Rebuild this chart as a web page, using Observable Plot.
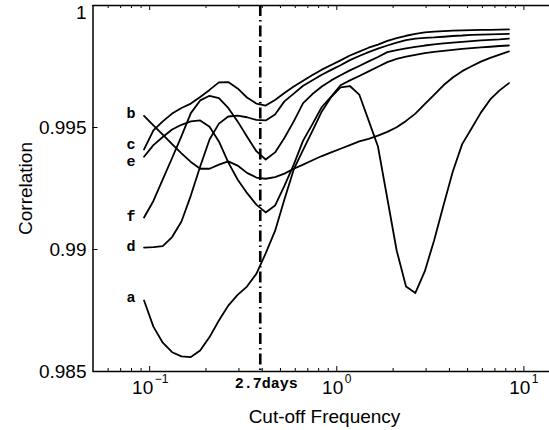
<!DOCTYPE html>
<html><head><meta charset="utf-8">
<script src="https://cdn.jsdelivr.net/npm/d3@7"></script>
<script src="https://cdn.jsdelivr.net/npm/@observablehq/plot@0.6"></script>
<style>body{margin:0;background:#fff;overflow:hidden}</style>
</head><body><div id="chart"></div>
<script>
// ---- data ----
const freq = [0.09333,0.10471,0.11749,0.13183,0.14791,0.16596,0.18621,0.20893,0.23442,0.26303,
  0.29512,0.33113,0.37154,0.41687,0.46774,0.52481,0.58884,0.66069,0.74131,0.83176,
  0.93325,1.0471,1.1749,1.3183,1.4791,1.6596,1.8621,2.0893,2.3442,2.6303,
  2.9512,3.3113,3.7154,4.1687,4.6774,5.2481,5.8884,6.6069,7.4131,8.3176];
const corrA = [0.98791,0.98684,0.98618,0.98579,0.98562,0.98559,0.98586,0.98641,0.98709,0.98770,
  0.98814,0.98848,0.98900,0.98984,0.99076,0.99205,0.99328,0.99408,0.99486,0.99566,
  0.99625,0.99664,0.99670,0.99635,0.99529,0.99422,0.99209,0.98996,0.98848,0.98822,
  0.98910,0.99037,0.99180,0.99320,0.99432,0.99496,0.99561,0.99615,0.99652,0.99682];
const corrB = [0.99548,0.99509,0.99471,0.99432,0.99394,0.99359,0.99331,0.99331,0.99348,0.99361,
  0.99344,0.99314,0.99295,0.99290,0.99297,0.99311,0.99331,0.99348,0.99366,0.99383,
  0.99398,0.99413,0.99428,0.99443,0.99453,0.99467,0.99482,0.99501,0.99527,0.99557,
  0.99596,0.99634,0.99673,0.99705,0.99731,0.99751,0.99770,0.99785,0.99799,0.99812];
const corrC = [0.99410,0.99488,0.99525,0.99557,0.99580,0.99598,0.99625,0.99654,0.99685,0.99686,
  0.99660,0.99623,0.99598,0.99590,0.99613,0.99641,0.99668,0.99692,0.99715,0.99737,
  0.99756,0.99775,0.99795,0.99811,0.99827,0.99840,0.99855,0.99866,0.99876,0.99884,
  0.99890,0.99893,0.99895,0.99897,0.99898,0.99899,0.99900,0.99900,0.99901,0.99902];
const corrD = [0.99008,0.99010,0.99014,0.99051,0.99115,0.99221,0.99340,0.99451,0.99516,0.99545,
  0.99549,0.99542,0.99531,0.99529,0.99553,0.99607,0.99639,0.99671,0.99694,0.99716,
  0.99736,0.99755,0.99776,0.99793,0.99809,0.99823,0.99836,0.99848,0.99858,0.99864,
  0.99867,0.99869,0.99872,0.99875,0.99877,0.99880,0.99881,0.99882,0.99883,0.99884];
const corrE = [0.99380,0.99428,0.99461,0.99492,0.99511,0.99525,0.99529,0.99503,0.99443,0.99357,
  0.99287,0.99232,0.99184,0.99152,0.99180,0.99261,0.99348,0.99446,0.99514,0.99584,
  0.99627,0.99673,0.99693,0.99711,0.99730,0.99749,0.99768,0.99781,0.99790,0.99798,
  0.99805,0.99810,0.99814,0.99818,0.99822,0.99825,0.99828,0.99831,0.99834,0.99836];
const corrF = [0.99131,0.99199,0.99287,0.99375,0.99465,0.99559,0.99611,0.99630,0.99620,0.99580,
  0.99525,0.99463,0.99403,0.99369,0.99398,0.99457,0.99525,0.99600,0.99637,0.99668,
  0.99693,0.99714,0.99734,0.99752,0.99771,0.99789,0.99809,0.99817,0.99824,0.99830,
  0.99836,0.99841,0.99845,0.99848,0.99851,0.99854,0.99857,0.99859,0.99861,0.99864];
const seriesNames = ["a","b","c","d","e","f"];
const cutoffFreq = 0.39;
const cutoffLabel = "2.7days";
const yTicks = [0.985, 0.99, 0.995, 1];
const yTickLabels = ["0.985","0.99","0.995","1"];
const xMajorTicks = [0.1, 1, 10];
const xTickBase = "10";
const xTickExponents = ["\u22121","0","1"];
const xMinorTicks = [0.06,0.07,0.08,0.09,0.2,0.3,0.4,0.5,0.6,0.7,0.8,0.9,2,3,4,5,6,7,8,9];
const xLabel = "Cut-off Frequency";
const yLabel = "Correlation";

// ---- layout ----
const W = 549, H = 430, mL = 92.5, mR = 0, mT = 5, mB = 59;
const xDomain = [0.0498, 13.7], yDomain = [0.985, 1];
const pxY = (yDomain[1] - yDomain[0]) / (H - mT - mB);
const pxXf = Math.pow(xDomain[1] / xDomain[0], 1 / (W - mL - mR));
const sans = "'Liberation Sans', Arial, Helvetica, sans-serif";
const mono = "'Liberation Mono', 'Courier New', monospace";

const allSeries = [corrA, corrB, corrC, corrD, corrE, corrF];
const rows = [];
seriesNames.forEach((s, k) => freq.forEach((f, i) => rows.push({series: s, f, r: allSeries[k][i]})));

const labelDy = {a: 2, b: 2, c: 0, d: 3, e: 9, f: 3};
const seriesLabelMarks = seriesNames.map((s, k) =>
  Plot.text([{series: s, f: freq[0], r: allSeries[k][0]}], {
    x: "f", y: "r", text: "series", textAnchor: "middle", lineAnchor: "bottom",
    dx: -13, dy: labelDy[s], fontFamily: mono, fontWeight: "bold", fontSize: 15, fill: "black"
  }));

const expW = [12.5, 6.7, 6.7];
const xTickLabelMarks = [];
xMajorTicks.forEach((t, i) => {
  const baseEnd = (21.1 - 1.5 - expW[i]) / 2;
  xTickLabelMarks.push(Plot.text([t], {x: d => d, y: yDomain[0], text: () => xTickBase,
    textAnchor: "end", lineAnchor: "bottom", dx: baseEnd, dy: 22, fontSize: 19, fontFamily: sans}));
  xTickLabelMarks.push(Plot.text([t], {x: d => d, y: yDomain[0], text: () => xTickExponents[i],
    textAnchor: "start", lineAnchor: "bottom", dx: baseEnd + 1.5, dy: 11, fontSize: 12, fontFamily: sans}));
});

const yLabelIdx = yTicks.map((d, i) => i);
const chart = Plot.plot({
  width: W, height: H,
  marginLeft: mL, marginRight: mR, marginTop: mT, marginBottom: mB,
  style: {fontFamily: sans, background: "white", overflow: "visible"},
  x: {type: "log", domain: xDomain, axis: null},
  y: {domain: yDomain, axis: null},
  marks: [
    // curves
    Plot.line(rows, {x: "f", y: "r", z: "series", stroke: "black", strokeWidth: 1.8, curve: "linear"}),
    // cut-off line
    Plot.ruleX([cutoffFreq], {stroke: "black", strokeWidth: 2.6, strokeDasharray: "11,4,1.5,4"}),
    // frame
    Plot.ruleY([yDomain[0]], {stroke: "black", strokeWidth: 1.5}),
    Plot.ruleY([yDomain[1]], {stroke: "black", strokeWidth: 1.5}),
    Plot.ruleX([xDomain[0]], {stroke: "black", strokeWidth: 1.5}),
    // ticks (inward)
    Plot.ruleX(xMajorTicks, {x: d => d, y1: yDomain[0], y2: yDomain[0] + 5 * pxY, stroke: "black", strokeWidth: 1}),
    Plot.ruleX(xMajorTicks, {x: d => d, y1: yDomain[1], y2: yDomain[1] - 5 * pxY, stroke: "black", strokeWidth: 1}),
    Plot.ruleX(xMinorTicks, {x: d => d, y1: yDomain[0], y2: yDomain[0] + 3 * pxY, stroke: "black", strokeWidth: 1}),
    Plot.ruleX(xMinorTicks, {x: d => d, y1: yDomain[1], y2: yDomain[1] - 3 * pxY, stroke: "black", strokeWidth: 1}),
    Plot.ruleY(yTicks, {y: d => d, x1: xDomain[0], x2: xDomain[0] * Math.pow(pxXf, 5), stroke: "black", strokeWidth: 1}),
    // tick labels
    Plot.text(yLabelIdx.slice(0, 3), {x: xDomain[0], y: i => yTicks[i], text: i => yTickLabels[i], textAnchor: "end",
      lineAnchor: "middle", dx: -6.5, fontSize: 19, fontFamily: sans}),
    Plot.text(yLabelIdx.slice(3), {x: xDomain[0], y: i => yTicks[i], text: i => yTickLabels[i], textAnchor: "end",
      lineAnchor: "middle", dx: -6.5, dy: 7, fontSize: 19, fontFamily: sans}),
    ...xTickLabelMarks,
    // cut-off label
    Plot.text([cutoffFreq], {x: d => d, y: yDomain[0], text: () => cutoffLabel, textAnchor: "middle",
      lineAnchor: "bottom", dx: 6, dy: 16, fontFamily: mono, fontWeight: "bold", fontSize: 15}),
    // series labels
    ...seriesLabelMarks,
    // axis labels
    Plot.text([yLabel], {frameAnchor: "left", text: d => d, rotate: -90, textAnchor: "middle",
      lineAnchor: "bottom", dx: -61.5, fontSize: 19, fontFamily: sans}),
    Plot.text([xLabel], {frameAnchor: "bottom", text: d => d, textAnchor: "middle",
      lineAnchor: "bottom", dx: 3.25, dy: 51, fontSize: 19, fontFamily: sans})
  ]
});
document.getElementById("chart").appendChild(chart);
</script>
</body></html>
